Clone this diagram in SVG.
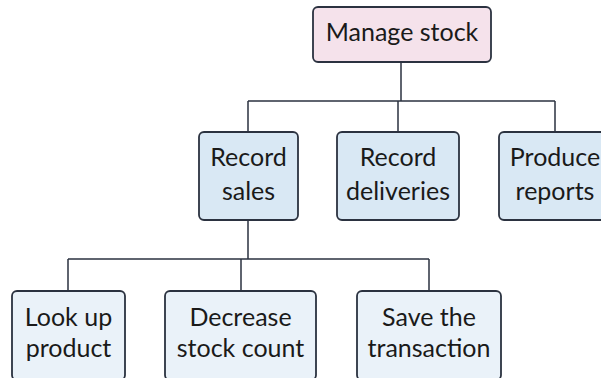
<svg xmlns="http://www.w3.org/2000/svg" width="601" height="378" viewBox="0 0 601 378">
  <style>
    .box { stroke: #2b3240; stroke-width: 1.8; }
    .root { fill: #f5e2eb; }
    .mid { fill: #d9e8f4; }
    .leaf { fill: #eaf2f9; }
    .lbl { font-family: Lato, "Liberation Sans", sans-serif; font-size: 25px; fill: #1a1a1a; text-anchor: middle; }
    .wire { fill: none; stroke: #2b3240; stroke-width: 1.5; }
  </style>
  <rect width="601" height="378" fill="#ffffff"/>

  <g id="connectors">
    <path class="wire" d="M401 62 V101 M248 101 H555 M248 101 V132 M398 101 V132 M555 101 V132"/>
    <path class="wire" d="M248 220 V259 M68 259 H429 M68 259 V291 M241 259 V291 M429 259 V291"/>
  </g>

  <g id="manage-stock">
    <rect class="box root" x="313" y="7" width="178" height="55" rx="5"/>
    <text class="lbl" x="402" y="41">Manage stock</text>
  </g>

  <g id="record-sales">
    <rect class="box mid" x="199" y="132" width="99" height="88" rx="5"/>
    <text class="lbl" x="248.5" y="166">Record</text>
    <text class="lbl" x="248.5" y="200">sales</text>
  </g>

  <g id="record-deliveries">
    <rect class="box mid" x="337" y="132" width="122" height="88" rx="5"/>
    <text class="lbl" x="398" y="166">Record</text>
    <text class="lbl" x="398" y="200">deliveries</text>
  </g>

  <g id="produce-reports">
    <rect class="box mid" x="499" y="132" width="112" height="88" rx="5"/>
    <text class="lbl" x="555" y="166">Produce</text>
    <text class="lbl" x="555" y="200">reports</text>
  </g>

  <g id="look-up-product">
    <rect class="box leaf" x="12" y="291" width="113" height="89" rx="5"/>
    <text class="lbl" x="68.5" y="326">Look up</text>
    <text class="lbl" x="68.5" y="357">product</text>
  </g>

  <g id="decrease-stock-count">
    <rect class="box leaf" x="165" y="291" width="151" height="89" rx="5"/>
    <text class="lbl" x="240.5" y="326">Decrease</text>
    <text class="lbl" x="240.5" y="357">stock count</text>
  </g>

  <g id="save-the-transaction">
    <rect class="box leaf" x="357" y="291" width="144" height="89" rx="5"/>
    <text class="lbl" x="429" y="326">Save the</text>
    <text class="lbl" x="429" y="357">transaction</text>
  </g>
</svg>
